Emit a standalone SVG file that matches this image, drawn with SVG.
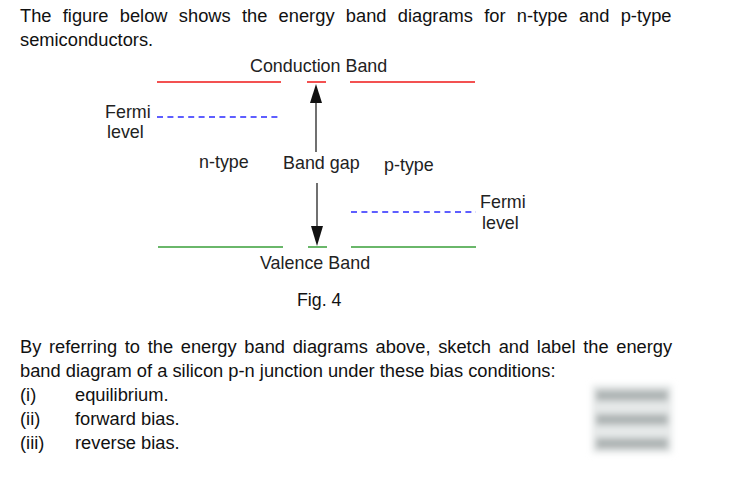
<svg xmlns="http://www.w3.org/2000/svg" width="733" height="485" viewBox="0 0 733 485">
<style>
text{font-family:"Liberation Sans",Arial,sans-serif;font-size:18.3px;fill:#111}
.l{font-size:17.9px;fill:#222}
.r{stroke:#f01818;stroke-width:1.3;fill:none}
.g{stroke:#3aa03a;stroke-width:1.3;fill:none}
.b{stroke:#2a2aff;stroke-width:1.3;stroke-dasharray:6 4.4;fill:none}
.a{stroke:#111;stroke-width:1.2;fill:none}
.h{fill:#111}
.m{fill:#aeb4b4}
.p{fill:#e6e9e9}
</style>
<defs><filter id="bl" x="-20%" y="-60%" width="140%" height="220%"><feGaussianBlur stdDeviation="3"/></filter></defs>
<rect width="733" height="485" fill="#fff"/>
<g id="intro">
<text x="20" y="22" word-spacing="6.2">The figure below shows the energy band diagrams for n-type and p-type</text>
<text x="20" y="46">semiconductors.</text>
</g>
<g id="connectors">
<path class="r" d="M157 82H281M307 82H326M350 82H475"/>
<path class="g" d="M158 247H283M308 247H327M351 247H476"/>
<path class="b" d="M157 117H280"/>
<path class="b" d="M351 212H476"/>
<path class="a" d="M316 152V100"/>
<path class="h" d="M316 84L310 103H322Z"/>
<path class="a" d="M317 183V226"/>
<path class="h" d="M317 246L311 226H323Z"/>
</g>
<g id="conduction-band"><text class="l" x="250" y="72">Conduction Band</text></g>
<g id="fermi-n"><text class="l" x="105" y="118">Fermi</text><text class="l" x="107" y="138">level</text></g>
<g id="n-type"><text class="l" x="199" y="168">n-type</text></g>
<g id="band-gap"><text class="l" x="283" y="169">Band gap</text></g>
<g id="p-type"><text class="l" x="384" y="171">p-type</text></g>
<g id="fermi-p"><text class="l" x="480" y="208">Fermi</text><text class="l" x="482" y="229">level</text></g>
<g id="valence-band"><text class="l" x="260" y="269">Valence Band</text></g>
<g id="caption"><text x="297" y="306" style="font-size:17.8px">Fig. 4</text></g>
<g id="question">
<text x="20" y="353" word-spacing="2.6">By referring to the energy band diagrams above, sketch and label the energy</text>
<text x="20" y="377">band diagram of a silicon p-n junction under these bias conditions:</text>
<text x="20" y="401">(i)</text><text x="75" y="401">equilibrium.</text>
<text x="20" y="425">(ii)</text><text x="75" y="425">forward bias.</text>
<text x="20" y="449">(iii)</text><text x="75" y="449">reverse bias.</text>
</g>
<g id="blurred-marks" filter="url(#bl)">
<rect class="p" x="592" y="385" width="80" height="68"/>
<rect class="m" x="596" y="390" width="72" height="11"/>
<rect class="m" x="596" y="414" width="72" height="11"/>
<rect class="m" x="596" y="438" width="72" height="11"/>
</g>
</svg>
